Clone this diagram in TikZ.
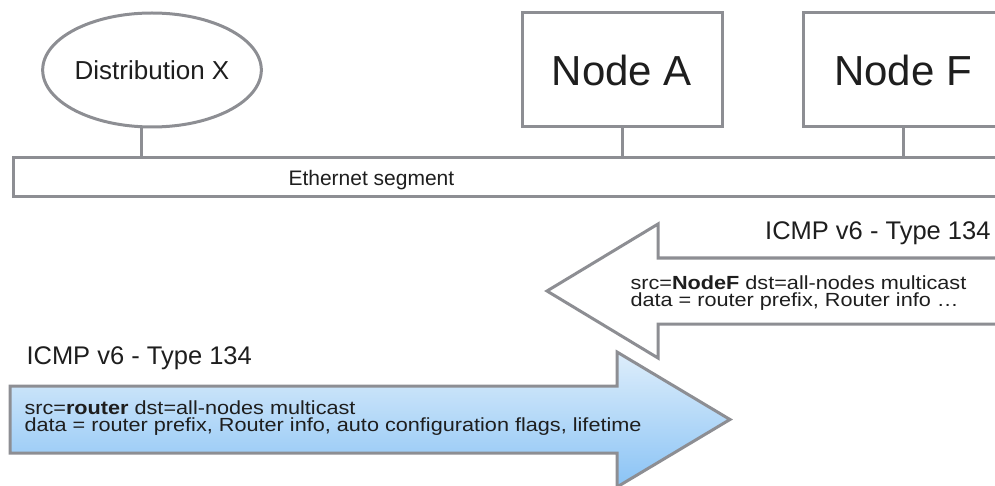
\documentclass[tikz,border=0pt]{standalone}
\usepackage{fontspec}
\setmainfont{Liberation Sans}
\newfontfamily\msgfont[FakeStretch=1.14]{Liberation Sans}
\usepackage{xcolor}
\usetikzlibrary{positioning}
\usetikzlibrary{shapes}
\definecolor{linegray}{RGB}{141,142,147}
\definecolor{txtgray}{RGB}{30,30,30}
\definecolor{bluetop}{RGB}{222,238,251}
\definecolor{bluebot}{RGB}{138,195,245}

\begin{document}
\begin{tikzpicture}[x=1pt,y=-1pt,line width=3pt,text=txtgray,
   host/.style={draw=linegray,fill=white,rectangle,minimum width=200pt,
                minimum height=114pt,inner sep=0pt,font=\fontsize{42}{46}\selectfont},
   dist/.style={draw=linegray,fill=white,ellipse,minimum width=194pt,
                minimum height=114pt,inner sep=0pt,font=\fontsize{26}{30}\selectfont},
   wire/.style={draw=linegray,rectangle,minimum width=998pt,minimum height=39pt,
                inner sep=0pt,anchor=west},
   title/.style={inner sep=0pt,font=\fontsize{25.5}{30}\selectfont},
   msg/.style={inner sep=0pt,align=left,anchor=north west,
               font=\msgfont\fontsize{19}{17.5}\selectfont},
   pkt/.style={draw=linegray,line join=miter}]
   \useasboundingbox (0,0) rectangle (995,486);
   \clip (0,0) rectangle (995,486);

   % hosts on the segment
   \node[dist] (distx) at (152,70) {Distribution X};
   \node[host] (nodea) at (622,70) {Node A};
   \node[host] (nodef) at (903,70) {Node F};
   \node[wire] (seg) at (12,177.5) {};
   \node[inner sep=0pt,anchor=base west,font=\fontsize{21}{25}\selectfont]
        (seglabel) at (287,186) {Ethernet segment};

   \draw[linegray] (distx.-100) -- (distx.-100 |- seg.north);
   \draw[linegray] (nodea.south) -- (nodea.south |- seg.north);
   \draw[linegray] (nodef.south) -- (nodef.south |- seg.north);

   % advertisement from Node F (to the left)
   \draw[pkt,fill=white] (1010,258) -- (658,258) -- (658,224) -- (547,291)
        -- (658,358) -- (658,324) -- (1010,324);
   \node[title,anchor=base east] (typef) at (992,240) {ICMP v6 - Type 134};
   \node[msg] (msgf) at (629,274)
        {src=\textbf{NodeF} dst=all-nodes multicast\\
         data = router prefix, Router info \dots};

   % advertisement from the router (to the right)
   \path[pkt,top color=bluetop,bottom color=bluebot] (10,386) -- (617,386)
        -- (617,352) -- (730,419.5) -- (617,487) -- (617,453) -- (10,453) -- cycle;
   \node[title,anchor=base west] (typer) at (25,364) {ICMP v6 - Type 134};
   \node[msg] (msgr) at (23,399)
        {src=\textbf{router} dst=all-nodes multicast\\
         data = router prefix, Router info, auto configuration flags, lifetime};
\end{tikzpicture}
\end{document}
